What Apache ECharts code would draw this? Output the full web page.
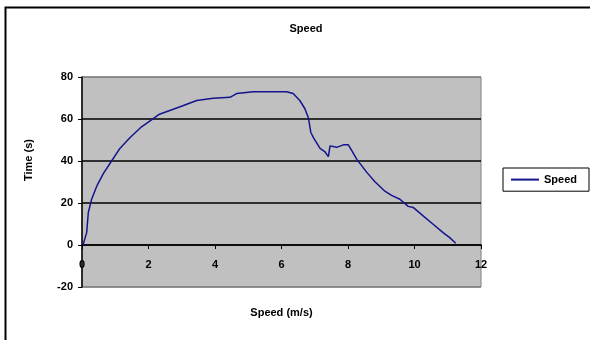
<!DOCTYPE html>
<html>
<head>
<meta charset="utf-8">
<script src="https://cdn.jsdelivr.net/npm/echarts@6/dist/echarts.min.js"></script>
<style>
  html, body { margin: 0; padding: 0; background: #fff; }
  #chart { width: 590px; height: 340px; }
</style>
</head>
<body>
<div id="chart"></div>
<script>
// speed (m/s) on x, time (s) on y
const speedX = [0.03, 0.14, 0.19, 0.29, 0.44, 0.64, 0.89, 1.14, 1.44, 1.79, 2.09, 2.33, 2.95, 3.45, 3.95,
  4.45, 4.65, 5.15, 6.15, 6.35, 6.55, 6.7, 6.81, 6.88, 6.96, 7.16, 7.31, 7.41, 7.46, 7.66, 7.86,
  8.01, 8.11, 8.26, 8.56, 8.81, 9.11, 9.31, 9.56, 9.81, 9.96, 10.26, 10.56, 10.86, 11.06, 11.24];
const timeY = [0, 5.9, 15.5, 21.8, 27.9, 34, 40, 46, 51.1, 56.3, 59.6, 62.3, 65.8, 68.8, 69.9,
  70.3, 72.1, 73, 73, 72.1, 68.8, 65, 60.5, 53.7, 51.1, 46, 44.3, 42.1, 47.2, 46.5, 47.7,
  47.7, 45.1, 40.9, 34.7, 30.1, 25.6, 23.6, 21.8, 18.4, 17.9, 13.9, 9.9, 5.9, 3.5, 0.8];

const xTicks = { min: 0, max: 12, step: 2 };
const yTicks = { min: -20, max: 80, step: 20 };

const points = speedX.map((x, i) => [x, timeY[i]]);

const txt = { color: '#000', fontFamily: 'Liberation Sans, Arial', fontWeight: 'bold', fontSize: 11 };

// plot box in px
const gridTop = 77, gridBottom = 53, H = 340;
const plotH = H - gridTop - gridBottom;
// lift the x axis from the bottom edge up to y = 0
const zeroLift = plotH * (0 - yTicks.min) / (yTicks.max - yTicks.min);

const chart = echarts.init(document.getElementById('chart'));
chart.setOption({
  animation: false,
  backgroundColor: '#fff',
  title: {
    text: 'Speed',
    left: 301,
    top: 18,
    textAlign: 'center',
    textStyle: { ...txt }
  },
  graphic: [{
    type: 'rect',
    shape: { x: 5.5, y: 7.5, width: 700, height: 500 },
    style: { fill: 'none', stroke: '#000', lineWidth: 2 },
    silent: true
  }, {
    type: 'text',
    x: 29,
    y: 160,
    rotation: Math.PI / 2,
    style: {
      text: 'Time (s)',
      align: 'center',
      verticalAlign: 'middle',
      fill: '#000',
      font: 'bold 11px "Liberation Sans", Arial'
    },
    silent: true
  }],
  grid: {
    left: 82,
    right: 109,
    top: gridTop,
    bottom: gridBottom,
    outerBoundsMode: 'none',
    containLabel: false,
    show: true,
    backgroundColor: '#c0c0c0',
    borderColor: '#808080',
    borderWidth: 1
  },
  legend: {
    data: ['Speed'],
    left: 503,
    top: 168,
    orient: 'vertical',
    padding: [6, 12, 6, 7],
    itemWidth: 28,
    itemHeight: 14,
    itemGap: 0,
    itemStyle: { opacity: 0 },
    borderColor: '#000',
    borderWidth: 1,
    backgroundColor: '#fff',
    textStyle: { ...txt, fontSize: 11 }
  },
  xAxis: {
    type: 'value',
    min: xTicks.min,
    max: xTicks.max,
    interval: xTicks.step,
    position: 'bottom',
    offset: -zeroLift,
    name: 'Speed (m/s)',
    nameLocation: 'middle',
    nameGap: 62,
    nameTextStyle: { ...txt },
    axisLine: { onZero: false, lineStyle: { color: '#000', width: 1.5 } },
    axisTick: { show: true, length: 4, lineStyle: { color: '#000' } },
    axisLabel: { ...txt, margin: 14 },
    splitLine: { show: false }
  },
  yAxis: {
    type: 'value',
    min: yTicks.min,
    max: yTicks.max,
    interval: yTicks.step,
    axisLine: { show: true, lineStyle: { color: '#000', width: 1.5 } },
    axisTick: { show: true, length: 4, lineStyle: { color: '#000' } },
    axisLabel: { ...txt, margin: 9 },
    splitLine: {
      show: true,
      lineStyle: { color: ['#808080', '#000', '#000', '#000', '#000', '#808080'], width: 1.5 }
    }
  },
  series: [{
    name: 'Speed',
    type: 'line',
    data: points,
    symbol: 'none',
    smooth: false,
    lineStyle: { color: '#14148f', width: 1.5 },
    itemStyle: { color: '#14148f' }
  }]
});
</script>
</body>
</html>
